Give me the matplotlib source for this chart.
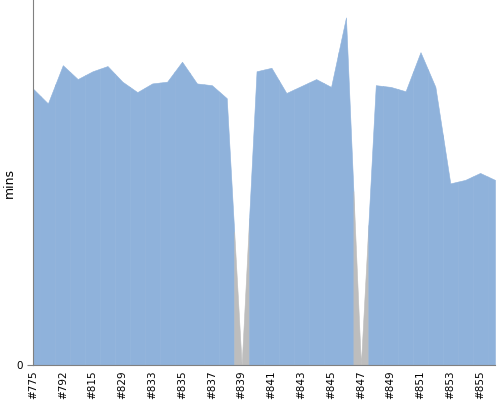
import matplotlib
matplotlib.use("Agg")
import matplotlib.pyplot as plt
import numpy as np

# build numbers (only every other one gets a label on the axis)
builds = ["#775", "#781", "#792", "#803", "#815", "#822", "#829", "#831",
          "#833", "#834", "#835", "#836", "#837", "#838", "#839", "#840",
          "#841", "#842", "#843", "#844", "#845", "#846", "#847", "#848",
          "#849", "#850", "#851", "#852", "#853", "#854", "#855", "#856"]
# build duration in minutes
mins = [31.8, 30.1, 34.5, 32.9, 33.8, 34.4, 32.6, 31.4,
        32.4, 32.6, 34.9, 32.4, 32.2, 30.7, 0.0, 33.8,
        34.2, 31.3, 32.1, 32.9, 32.0, 40.0, 0.0, 32.2,
        32.0, 31.5, 36.0, 32.0, 20.9, 21.3, 22.1, 21.3]
# build result
status = ["ok"] * 14 + ["aborted"] + ["ok"] * 7 + ["aborted"] + ["ok"] * 9

colors = {"ok": "#8fb2db", "aborted": "#bdbdbd"}

fig = plt.figure(figsize=(5, 4), dpi=100)
ax = fig.add_axes([0.066, 0.0875, 0.924, 0.9125])

x = np.arange(len(mins))
n = len(mins) - 1
for i in x:
    xs = np.array([max(i - 0.5, 0), i, min(i + 0.5, n)])
    ys = np.interp(xs, x, mins)
    c = colors[status[i]]
    ax.fill_between(xs, 0, ys, color=c, lw=0.4, edgecolor=c)

ax.set_xlim(0, n)
ax.set_ylim(0, max(mins) * 1.05)
ax.set_xticks(x[::2])
ax.set_xticklabels(builds[::2], rotation=90, fontsize=7.5)
ax.tick_params(axis="x", length=0, pad=4)
ax.set_yticks([0])
ax.tick_params(axis="y", length=4, color="#808080", labelsize=7.5)
ax.set_ylabel("mins", fontsize=9)
ax.yaxis.set_label_coords(-0.037, 0.5)

for s in ["top", "right"]:
    ax.spines[s].set_visible(False)
ax.spines["left"].set_color("#808080")
ax.spines["bottom"].set_color("#808080")

plt.savefig("out.png", dpi=100)
